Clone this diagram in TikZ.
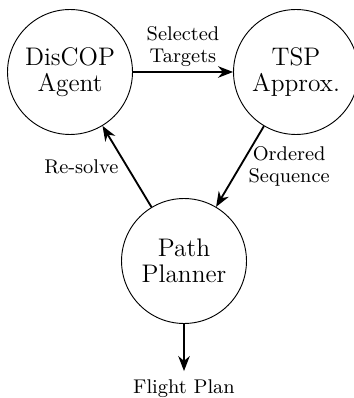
\documentclass[tikz,border=0pt]{standalone}
\usetikzlibrary{arrows.meta}
\begin{document}
\begin{tikzpicture}[x=0.4329pt,y=-0.4329pt,
  block/.style={circle,draw,minimum size=54.1pt,inner sep=0pt,align=center,font=\fontsize{11}{11.5}\selectfont},
  flow/.style={-{Stealth[length=6.5pt,width=5pt]},thick},
  lbl/.style={font=\fontsize{8.6}{9.3}\selectfont,align=center}]
\useasboundingbox (0,0) rectangle (353,398);
\node[block] (A) at (70,72) {DisCOP\\Agent};
\node[block] (T) at (296,72) {TSP\\Approx.};
\node[block] (P) at (184,261) {Path\\Planner};
\node[lbl,anchor=base] (F) at (184,393) {Flight Plan};
\draw[flow] (A) -- node[lbl,above,inner sep=2pt] (l1) {Selected\\Targets} (T);
\draw[flow] (T) -- node[lbl,right] (l2) {Ordered\\Sequence} (P);
\draw[flow] (P) -- node[lbl,left] (l3) {Re-solve} (A);
\draw[flow] (P) -- (F);
\end{tikzpicture}
\end{document}
